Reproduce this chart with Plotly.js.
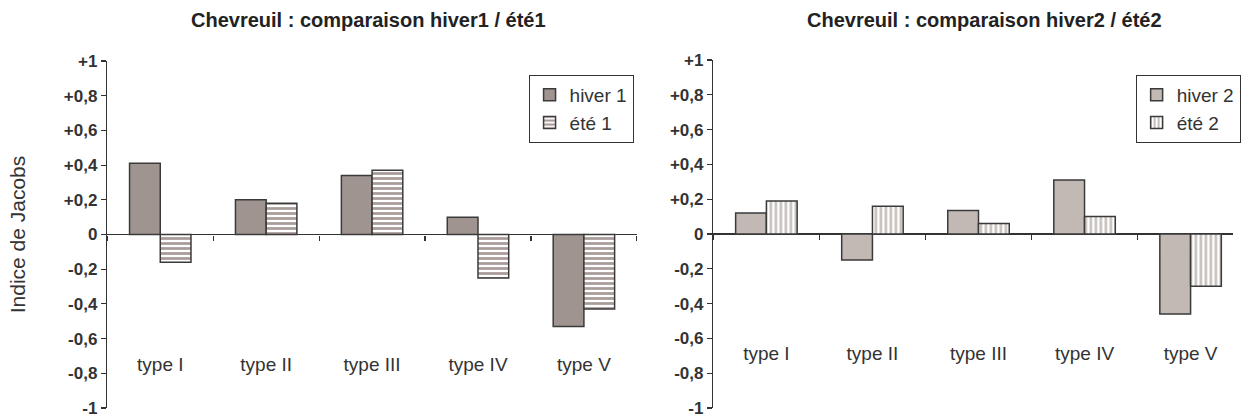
<!DOCTYPE html>
<html>
<head>
<meta charset="utf-8">
<script src="https://cdn.plot.ly/plotly-3.0.1.min.js"></script>
<style>html,body{margin:0;padding:0;background:#fff;}#chart{width:1241px;height:417px;}</style>
</head>
<body>
<div id="chart"></div>
<script>
const categories = ["type I", "type II", "type III", "type IV", "type V"];
const hiver1 = [0.41, 0.20, 0.34, 0.10, -0.53];
const ete1 = [-0.16, 0.18, 0.37, -0.25, -0.43];
const hiver2 = [0.12, -0.15, 0.135, 0.31, -0.46];
const ete2 = [0.19, 0.16, 0.06, 0.10, -0.30];
const yTickVals = [1, 0.8, 0.6, 0.4, 0.2, 0, -0.2, -0.4, -0.6, -0.8, -1];
const yTickText = ["+1", "+0,8", "+0,6", "+0,4", "+0,2", "0", "-0,2", "-0,4", "-0,6", "-0,8", "-1"];
const title1 = "Chevreuil : comparaison hiver1 / été1";
const title2 = "Chevreuil : comparaison hiver2 / été2";
const yTitle = "Indice de Jacobs";

const FONT = "Liberation Sans, Arial, sans-serif";
const INK = "#333333";
const OUTLINE = {color: "#3a3a3a", width: 1.5};

const traces = [
  {type: "bar", name: "hiver 1", x: categories, y: hiver1, xaxis: "x", yaxis: "y", legend: "legend",
   marker: {color: "#a09490", line: OUTLINE}},
  {type: "bar", name: "été 1", x: categories, y: ete1, xaxis: "x", yaxis: "y", legend: "legend",
   marker: {color: "#ffffff", line: OUTLINE, pattern: {shape: "-", fgcolor: "#a89c98", bgcolor: "#ffffff", size: 5, solidity: 0.55}}},
  {type: "bar", name: "hiver 2", x: categories, y: hiver2, xaxis: "x2", yaxis: "y2", legend: "legend2",
   marker: {color: "#c2b8b4", line: OUTLINE}},
  {type: "bar", name: "été 2", x: categories, y: ete2, xaxis: "x2", yaxis: "y2", legend: "legend2",
   marker: {color: "#ffffff", line: OUTLINE, pattern: {shape: "|", fgcolor: "#c4bcb8", bgcolor: "#ffffff", size: 5, solidity: 0.5}}}
];

function yAxis(extra) {
  return Object.assign({
    range: [-1, 1], tickvals: yTickVals, ticktext: yTickText,
    showline: true, linecolor: INK, linewidth: 1.5,
    ticks: "outside", ticklen: 5, tickwidth: 1.2, tickcolor: INK,
    showgrid: false, zeroline: true, zerolinecolor: INK, zerolinewidth: 1.5,
    tickfont: {family: FONT, size: 17, color: INK, weight: "bold"},
    ticklabeloverflow: "allow",
    automargin: false, fixedrange: true
  }, extra);
}
function xAxis(extra) {
  return Object.assign({
    type: "category", showline: false, showgrid: false, zeroline: false,
    ticks: "outside", tickson: "boundaries", ticklen: 5, tickwidth: 1.2, tickcolor: INK,
    tickfont: {family: FONT, size: 19, color: INK},
    anchor: "free", automargin: false, fixedrange: true
  }, extra);
}

const legendBase = {
  xanchor: "left", yanchor: "top", itemwidth: 30,
  bgcolor: "#ffffff", bordercolor: INK, borderwidth: 1,
  font: {family: FONT, size: 19, color: INK}, itemclick: false, itemdoubleclick: false
};

const layout = {
  width: 1241, height: 417,
  margin: {l: 0, r: 0, t: 0, b: 0},
  paper_bgcolor: "#ffffff", plot_bgcolor: "rgba(0,0,0,0)",
  barmode: "group", bargap: 0.42, bargroupgap: 0,
  font: {family: FONT, color: INK},
  xaxis: xAxis({domain: [108/1241, 641/1241], range: [-0.5, 4.5], position: (417-235)/417, ticklabelstandoff: 116}),
  yaxis: yAxis({domain: [(417-408)/417, (417-61)/417], anchor: "x",
    title: {text: yTitle, font: {family: FONT, size: 21, color: INK}, standoff: 32}}),
  xaxis2: xAxis({domain: [718/1241, 1], range: [-0.5, 4.4], position: (417-234)/417, ticklabelstandoff: 106}),
  yaxis2: yAxis({domain: [(417-408)/417, (417-60)/417], anchor: "x2"}),
  legend: Object.assign({x: 532/1241, y: 1-75/417}, legendBase),
  legend2: Object.assign({x: 1143/1241, y: 1-75/417}, legendBase),
  annotations: [
    {text: title1, x: 371/1241, y: 1-20/417, xref: "paper", yref: "paper", showarrow: false,
     xanchor: "center", yanchor: "middle", font: {family: FONT, size: 20, color: "#222", weight: "bold"}},
    {text: title2, x: 991/1241, y: 1-20/417, xref: "paper", yref: "paper", showarrow: false,
     xanchor: "center", yanchor: "middle", font: {family: FONT, size: 20, color: "#222", weight: "bold"}}
  ],
  showlegend: true
};

Plotly.newPlot("chart", traces, layout, {displayModeBar: false, staticPlot: true});
</script>
</body>
</html>
